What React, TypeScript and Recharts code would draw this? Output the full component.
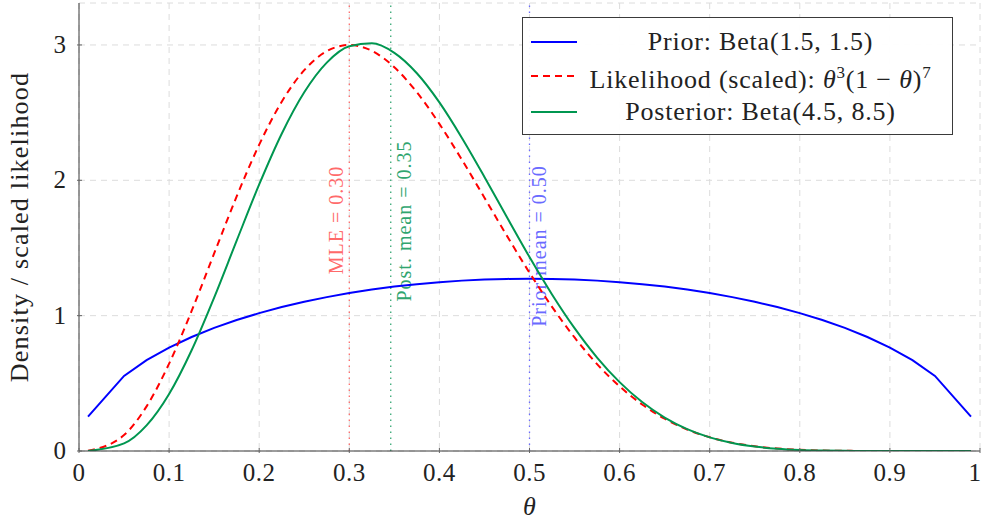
import React from 'react';
import { LineChart, Line, XAxis, YAxis, CartesianGrid, ReferenceLine, Label } from 'recharts';

// theta grid and the three curves
const thetas = [
  0.01, 0.05, 0.075, 0.1, 0.125, 0.15, 0.175, 0.2, 0.225, 0.25, 0.275, 0.3, 0.325,
  0.35, 0.375, 0.4, 0.425, 0.45, 0.475, 0.5, 0.525, 0.55, 0.575, 0.6, 0.625, 0.65,
  0.675, 0.7, 0.725, 0.75, 0.775, 0.8, 0.825, 0.85, 0.875, 0.9, 0.925, 0.95, 0.99,
];
const priorDensity = [
  0.2534, 0.555, 0.6707, 0.7639, 0.8422, 0.9093, 0.9676, 1.0186, 1.0634, 1.1027, 1.137,
  1.1669, 1.1927, 1.2146, 1.2328, 1.2475, 1.2588, 1.2669, 1.2716, 1.2732, 1.2716, 1.2669,
  1.2588, 1.2475, 1.2328, 1.2146, 1.1927, 1.1669, 1.137, 1.1027, 1.0634, 1.0186, 0.9676,
  0.9093, 0.8422, 0.7639, 0.6707, 0.555, 0.2534,
];
const likelihoodScaled = [
  0.0013, 0.1178, 0.3298, 0.6452, 1.0347, 1.4596, 1.8807, 2.2633, 2.5806, 2.8137, 2.9541,
  2.9997, 2.9568, 2.8354, 2.6502, 2.4169, 2.1514, 1.8715, 1.5895, 1.3174, 1.065, 0.8387,
  0.6423, 0.4774, 0.3435, 0.2384, 0.1589, 0.1012, 0.0612, 0.0347, 0.0183, 0.0088, 0.0038,
  0.0014, 0.0004, 0.0001, 0, 0, 0,
];
const posteriorDensity = [
  0.0003, 0.0558, 0.1889, 0.421, 0.7443, 1.1336, 1.5544, 1.9692, 2.3439, 2.65, 2.8691,
  2.9899, 3.0122, 2.9416, 2.7907, 2.5754, 2.3132, 2.0251, 1.7265, 1.4328, 1.1568, 0.9075,
  0.6906, 0.5087, 0.3617, 0.2473, 0.1619, 0.1009, 0.0594, 0.0327, 0.0167, 0.0077, 0.0031,
  0.0011, 0.0003, 0.0001, 0, 0, 0,
];

const xTicks = [0, 0.1, 0.2, 0.3, 0.4, 0.5, 0.6, 0.7, 0.8, 0.9, 1];
const yTicks = [0, 1, 2, 3];
const yMax = 3.31;

const mleTheta = 0.3;
const postMeanTheta = 0.346;
const priorMeanTheta = 0.5;

const data = thetas.map((t, i) => ({
  t,
  prior: priorDensity[i],
  lik: likelihoodScaled[i],
  post: posteriorDensity[i],
}));

const serif = "'Liberation Serif', 'Times New Roman', serif";
const BLUE = '#0000ff';
const RED = '#ff0000';
const GREEN = '#009650';
const FRAME = '#3a3a3a';

const fmtX = (v: number) => (v === 0 ? '0' : v === 1 ? '1' : v.toFixed(1));

const BottomTick = (props: any) => {
  const { x, y, payload } = props;
  // keep the last label inside the picture
  const tx = payload.value === 1 ? x - 5 : x;
  return (
    <g>
      <line x1={x} x2={x} y1={y} y2={y - 5} stroke="#666" />
      <text x={tx} y={y + 28} textAnchor="middle" fontSize={25} letterSpacing={0.5} fill="#222" fontFamily={serif}>
        {fmtX(payload.value)}
      </text>
    </g>
  );
};

const TopTick = (props: any) => {
  const { x, y } = props;
  return <line x1={x} x2={x} y1={y} y2={y + 5} stroke="#666" />;
};

const LeftTick = (props: any) => {
  const { x, y, payload } = props;
  return (
    <g>
      <line x1={x} x2={x + 5} y1={y} y2={y} stroke="#666" />
      <text x={x - 11} y={y + 8} textAnchor="end" fontSize={25} fill="#222" fontFamily={serif}>
        {payload.value}
      </text>
    </g>
  );
};

const RightTick = (props: any) => {
  const { x, y } = props;
  return <line x1={x} x2={x - 5} y1={y} y2={y} stroke="#666" />;
};

const markerLabel = (text: string, color: string, dx: number, cy: number) => (props: any) => {
  const vb = props.viewBox || {};
  const x = vb.x + dx;
  return (
    <text
      x={x}
      y={cy}
      transform={`rotate(-90 ${x} ${cy})`}
      textAnchor="middle"
      dominantBaseline="central"
      fontSize={20}
      letterSpacing={1}
      fill={color}
      fontFamily={serif}
    >
      {text}
    </text>
  );
};

const legendRows = [
  { key: 'prior', color: BLUE, dash: undefined, center: 25, label: <>Prior: Beta(1.5, 1.5)</> },
  {
    key: 'lik',
    color: RED,
    dash: '7 5',
    center: 59,
    label: (
      <>
        Likelihood (scaled): <i>θ</i>
        <sup style={{ fontSize: 17 }}>3</sup>(1 − <i>θ</i>)<sup style={{ fontSize: 17 }}>7</sup>
      </>
    ),
  },
  { key: 'post', color: GREEN, dash: undefined, center: 95, label: <>Posterior: Beta(4.5, 8.5)</> },
];

export default function App() {
  return (
    <div style={{ position: 'absolute', left: 0, top: 0, width: 982, height: 522, background: '#fff' }}>
      <LineChart width={982} height={522} data={data} margin={{ top: 3, right: 2, bottom: 0, left: 0 }}>
        <CartesianGrid stroke="#dcdcdc" strokeDasharray="6 5" />
        <XAxis
          dataKey="t"
          type="number"
          domain={[0, 1]}
          ticks={xTicks}
          height={71}
          tickSize={0}
          tickLine={false}
          tick={<BottomTick />}
          axisLine={{ stroke: FRAME }}
          interval={0}
        >
          <Label
            content={() => (
              <text x={529.5} y={515} textAnchor="middle" fontSize={26} fontStyle="italic" fill="#222" fontFamily={serif}>
                θ
              </text>
            )}
          />
        </XAxis>
        <XAxis
          xAxisId="top"
          orientation="top"
          dataKey="t"
          type="number"
          domain={[0, 1]}
          ticks={xTicks}
          height={0}
          tickSize={0}
          tickLine={false}
          tick={<TopTick />}
          axisLine={{ stroke: FRAME }}
          interval={0}
        />
        <YAxis
          type="number"
          domain={[0, yMax]}
          ticks={yTicks}
          width={79}
          tickSize={0}
          tickLine={false}
          tick={<LeftTick />}
          axisLine={{ stroke: FRAME }}
          allowDataOverflow
          interval={0}
        >
          <Label
            content={() => (
              <text
                x={19}
                y={227}
                transform="rotate(-90 19 227)"
                textAnchor="middle"
                dominantBaseline="central"
                fontSize={26}
                letterSpacing={1.2}
                fill="#222"
                fontFamily={serif}
              >
                Density / scaled likelihood
              </text>
            )}
          />
        </YAxis>
        <YAxis
          yAxisId="right"
          orientation="right"
          type="number"
          domain={[0, yMax]}
          ticks={yTicks}
          width={0}
          tickSize={0}
          tickLine={false}
          tick={<RightTick />}
          axisLine={{ stroke: FRAME }}
          allowDataOverflow
          interval={0}
        />
        <ReferenceLine
          x={mleTheta}
          stroke="#ff6b6b"
          strokeDasharray="1.5 4.5"
          strokeWidth={1.3}
          label={markerLabel('MLE = 0.30', '#ff6a6a', -13, 220)}
        />
        <ReferenceLine
          x={postMeanTheta}
          stroke="#35a874"
          strokeDasharray="1.5 4.5"
          strokeWidth={1.3}
          label={markerLabel('Post. mean = 0.35', '#30a56f', 13, 221)}
        />
        <ReferenceLine
          x={priorMeanTheta}
          stroke="#6b6bff"
          strokeDasharray="1.5 4.5"
          strokeWidth={1.3}
          label={markerLabel('Prior mean = 0.50', '#6a6aff', 9, 246)}
        />
        <Line type="linear" dataKey="prior" stroke={BLUE} strokeWidth={2} dot={false} isAnimationActive={false} />
        <Line
          type="monotone"
          dataKey="lik"
          stroke={RED}
          strokeWidth={2}
          strokeDasharray="7 5"
          dot={false}
          isAnimationActive={false}
        />
        <Line type="monotone" dataKey="post" stroke={GREEN} strokeWidth={2} dot={false} isAnimationActive={false} />
      </LineChart>

      <div
        style={{
          position: 'absolute',
          left: 522,
          top: 17,
          width: 431,
          height: 118,
          boxSizing: 'border-box',
          border: `1px solid ${FRAME}`,
          background: 'rgba(255,255,255,0.95)',
          fontFamily: serif,
          fontSize: 26,
          letterSpacing: 0.8,
          color: '#222',
        }}
      >
        {legendRows.map((r) => (
          <div
            key={r.key}
            style={{
              position: 'absolute',
              left: 0,
              right: 0,
              top: r.center - 18,
              height: 34,
              display: 'flex',
              alignItems: 'center',
              whiteSpace: 'nowrap',
            }}
          >
            <svg width={46} height={4} style={{ marginLeft: 8, flex: 'none' }}>
              <line x1={0} x2={46} y1={2} y2={2} stroke={r.color} strokeWidth={2} strokeDasharray={r.dash} />
            </svg>
            <div style={{ flex: 1, textAlign: 'center', paddingRight: 8, lineHeight: '34px' }}>{r.label}</div>
          </div>
        ))}
      </div>
    </div>
  );
}
